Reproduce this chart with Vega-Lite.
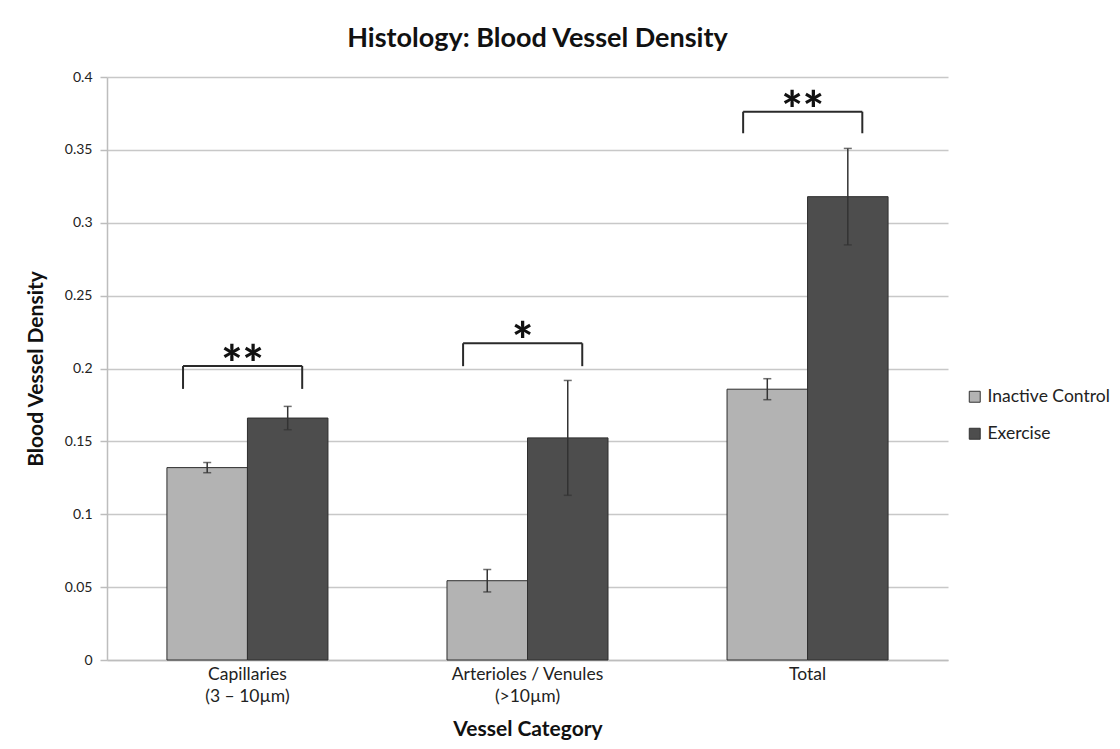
{
  "$schema": "https://vega.github.io/schema/vega-lite/v6.json",
  "width": 841,
  "height": 583,
  "autosize": {"type": "none"},
  "padding": {"left": 107, "top": 77, "right": 172, "bottom": 89},
  "background": "white",
  "title": {"text": "Histology: Blood Vessel Density", "font": "Lato", "fontSize": 27, "fontWeight": "bold", "color": "#111111", "anchor": "middle", "offset": 17, "dx": 10},
  "datasets": {
    "bars": [
      {"category": "Capillaries|(3 – 10µm)", "group": "Inactive Control", "value": 0.132, "lo": 0.1285, "hi": 0.1355},
      {"category": "Capillaries|(3 – 10µm)", "group": "Exercise", "value": 0.166, "lo": 0.158, "hi": 0.174},
      {"category": "Arterioles / Venules|(>10µm)", "group": "Inactive Control", "value": 0.0544, "lo": 0.0467, "hi": 0.0621},
      {"category": "Arterioles / Venules|(>10µm)", "group": "Exercise", "value": 0.1524, "lo": 0.113, "hi": 0.1918},
      {"category": "Total", "group": "Inactive Control", "value": 0.1858, "lo": 0.1786, "hi": 0.193},
      {"category": "Total", "group": "Exercise", "value": 0.3179, "lo": 0.2848, "hi": 0.351}
    ],
    "brackets": [
      {"category": "Capillaries|(3 – 10µm)", "bottom": 0.186, "top": 0.2017, "stars": "**"},
      {"category": "Arterioles / Venules|(>10µm)", "bottom": 0.2016, "top": 0.2173, "stars": "*"},
      {"category": "Total", "bottom": 0.3614, "top": 0.3762, "stars": "**"}
    ]
  },
  "layer": [
    {
      "data": {"name": "bars"},
      "mark": {"type": "bar", "stroke": "#2e2e2e", "strokeWidth": 1},
      "encoding": {
        "x": {
          "field": "category", "type": "nominal",
          "scale": {"domain": ["Capillaries|(3 – 10µm)", "Arterioles / Venules|(>10µm)", "Total"], "paddingInner": 0.425, "paddingOuter": 0.214},
          "axis": {
            "title": "Vessel Category", "titleFont": "Lato", "titleFontSize": 21, "titleFontWeight": "bold", "titleColor": "#111111", "titlePadding": 14,
            "labelExpr": "split(datum.label, '|')", "labelFont": "Lato", "labelFontSize": 17.5, "labelColor": "#222222", "labelLineHeight": 22, "labelAngle": 0, "labelPadding": 5,
            "ticks": false, "domainColor": "#bdbdbd", "domainWidth": 1.5, "grid": false
          }
        },
        "xOffset": {"field": "group", "type": "nominal", "scale": {"domain": ["Inactive Control", "Exercise"]}},
        "y": {
          "field": "value", "type": "quantitative",
          "scale": {"domain": [0, 0.4], "nice": false},
          "axis": {
            "title": "Blood Vessel Density", "titleFont": "Lato", "titleFontSize": 21, "titleFontWeight": "bold", "titleColor": "#111111", "titlePadding": 18,
            "values": [0, 0.05, 0.1, 0.15, 0.2, 0.25, 0.3, 0.35, 0.4], "format": "~g",
            "labelFont": "Lato", "labelFontSize": 14, "labelColor": "#222222", "labelPadding": 8,
            "tickSize": 7, "tickColor": "#bdbdbd", "tickWidth": 1.5,
            "domainColor": "#bdbdbd", "domainWidth": 1.5,
            "grid": true, "gridColor": "#c8c8c8", "gridWidth": 1.5
          }
        },
        "color": {
          "field": "group", "type": "nominal",
          "scale": {"domain": ["Inactive Control", "Exercise"], "range": ["#b3b3b3", "#4d4d4d"]},
          "legend": {
            "title": null, "orient": "none", "legendX": 859, "legendY": 311,
            "symbolType": "square", "symbolSize": 120, "symbolStrokeColor": "#333333", "symbolStrokeWidth": 1,
            "labelFont": "Lato", "labelFontSize": 17.5, "labelColor": "#222222", "labelOffset": 4, "rowPadding": 18
          }
        }
      }
    },
    {
      "data": {"name": "bars"},
      "mark": {"type": "rule", "color": "#333333", "strokeWidth": 1.5},
      "encoding": {
        "x": {"field": "category", "type": "nominal"},
        "xOffset": {"field": "group", "type": "nominal"},
        "y": {"field": "lo", "type": "quantitative"},
        "y2": {"field": "hi"}
      }
    },
    {
      "data": {"name": "bars"},
      "mark": {"type": "tick", "orient": "horizontal", "color": "#333333", "size": 8, "thickness": 1.5},
      "encoding": {
        "x": {"field": "category", "type": "nominal"},
        "xOffset": {"field": "group", "type": "nominal"},
        "y": {"field": "lo", "type": "quantitative"}
      }
    },
    {
      "data": {"name": "bars"},
      "mark": {"type": "tick", "orient": "horizontal", "color": "#333333", "size": 8, "thickness": 1.5},
      "encoding": {
        "x": {"field": "category", "type": "nominal"},
        "xOffset": {"field": "group", "type": "nominal"},
        "y": {"field": "hi", "type": "quantitative"}
      }
    },
    {
      "data": {"name": "brackets"},
      "mark": {"type": "rule", "color": "#2a2a2a", "strokeWidth": 2},
      "encoding": {
        "x": {"field": "category", "type": "nominal", "bandPosition": 0.1},
        "y": {"field": "bottom", "type": "quantitative"},
        "y2": {"field": "top"}
      }
    },
    {
      "data": {"name": "brackets"},
      "mark": {"type": "rule", "color": "#2a2a2a", "strokeWidth": 2},
      "encoding": {
        "x": {"field": "category", "type": "nominal", "bandPosition": 0.84},
        "y": {"field": "bottom", "type": "quantitative"},
        "y2": {"field": "top"}
      }
    },
    {
      "data": {"name": "brackets"},
      "mark": {"type": "rule", "color": "#2a2a2a", "strokeWidth": 2},
      "encoding": {
        "x": {"field": "category", "type": "nominal", "bandPosition": 0.1},
        "x2": {"field": "category", "bandPosition": 0.84},
        "y": {"field": "top", "type": "quantitative"}
      }
    },
    {
      "data": {"name": "brackets"},
      "mark": {"type": "text", "font": "Lato", "fontSize": 50, "fontWeight": 900, "color": "#111111", "baseline": "alphabetic", "align": "center", "dy": 16},
      "encoding": {
        "x": {"field": "category", "type": "nominal", "bandPosition": 0.47},
        "y": {"field": "top", "type": "quantitative"},
        "text": {"field": "stars"}
      }
    }
  ],
  "config": {"view": {"stroke": null}, "font": "Lato"}
}
